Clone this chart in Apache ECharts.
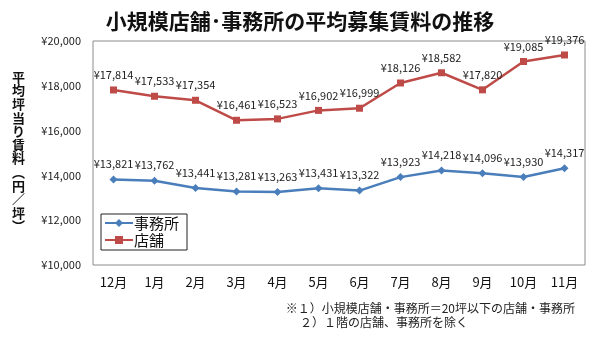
<!DOCTYPE html>
<html><head><meta charset="utf-8">
<script src="https://cdn.jsdelivr.net/npm/echarts@6/dist/echarts.min.js"></script>
<style>html,body{margin:0;padding:0;background:#fff}#c{width:600px;height:340px}</style>
</head><body><div id="c"></div>
<script>
const categories = ['12月','1月','2月','3月','4月','5月','6月','7月','8月','9月','10月','11月'];
const officeValues = [13821,13762,13441,13281,13263,13431,13322,13923,14218,14096,13930,14317];
const shopValues = [17814,17533,17354,16461,16523,16902,16999,18126,18582,17820,19085,19376];
const yTicks = {min:10000, max:20000, interval:2000};
const seriesNames = ['事務所','店舗'];
const titleText = '小規模店舗･事務所の平均募集賃料の推移';
const yTitle = '平均坪当り賃料︵円／坪︶';
const note1 = '※１）小規模店舗・事務所＝20坪以下の店舗・事務所';
const note2 = '２）１階の店舗、事務所を除く';

const font = '"Noto Sans CJK JP", "Noto Sans", sans-serif';
const yen = v => '¥' + Number(v).toLocaleString('en-US');
const chart = echarts.init(document.getElementById('c'));
chart.setOption({
  animation:false,
  textStyle:{fontFamily:font},
  title:{text:titleText,left:'center',top:6,textStyle:{fontSize:21,fontWeight:'bold',color:'#111',fontFamily:font}},
  grid:{left:93,right:15,top:41,bottom:75,show:true,borderColor:'#8c8c8c',borderWidth:1,backgroundColor:'#fff'},
  legend:{orient:'vertical',left:101,top:214,itemGap:1,itemWidth:28,itemHeight:10,
    borderColor:'#222',borderWidth:1,padding:[1,8,2,3],backgroundColor:'#fff',
    textStyle:{fontSize:15,lineHeight:16,color:'#111',fontFamily:font,padding:[0,0,0,-4]},
    data:seriesNames},
  xAxis:{type:'category',data:categories,boundaryGap:true,
    axisLine:{show:false},axisTick:{show:false},
    axisLabel:{fontSize:13,color:'#111',margin:11,fontFamily:font}},
  yAxis:{type:'value',min:yTicks.min,max:yTicks.max,interval:yTicks.interval,
    axisLine:{show:false},axisTick:{show:false},splitLine:{show:false},
    axisLabel:{fontSize:11,color:'#222',margin:12,formatter:yen,fontFamily:font}},
  series:[
    {name:seriesNames[0],type:'line',data:officeValues,symbol:'diamond',symbolSize:8,
      lineStyle:{color:'#4a7ebb',width:2.5},itemStyle:{color:'#4a7ebb'},
      label:{show:true,position:'top',distance:6,fontSize:11,color:'#222',formatter:p=>yen(p.value),fontFamily:font}},
    {name:seriesNames[1],type:'line',data:shopValues,symbol:'rect',symbolSize:7,
      lineStyle:{color:'#be4b48',width:2.5},itemStyle:{color:'#be4b48'},
      label:{show:true,position:'top',distance:6,fontSize:11,color:'#222',formatter:p=>yen(p.value),fontFamily:font}}
  ],
  graphic:[
    {type:'text',left:12,top:70,style:{text:yTitle.split('').join('\n'),lineHeight:13.6,fill:'#111',font:'bold 13px '+font}},
    {type:'text',right:25,top:302,style:{text:note1,fill:'#222',font:'12px '+font}},
    {type:'text',left:300,top:316,style:{text:note2,fill:'#222',font:'12px '+font}}
  ]
});
</script></body></html>
